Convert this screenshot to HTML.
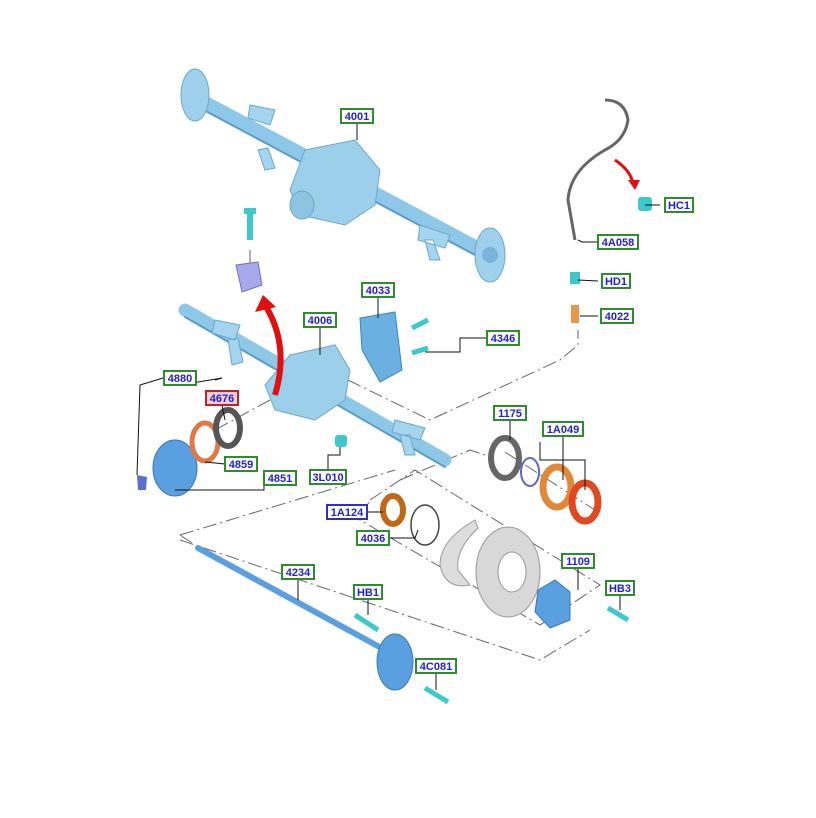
<!DOCTYPE html>
<html><head><meta charset="utf-8"><style>
html,body{margin:0;padding:0;background:#fff;}
svg{display:block}
.l rect{fill:#fff;stroke:#2e8b2e;stroke-width:2}
.l text{font-family:"Liberation Sans",sans-serif;font-weight:bold;font-size:11px;fill:#2222cc;text-anchor:middle}
.c{stroke:#111;stroke-width:1;fill:none}
.d{stroke:#666;stroke-width:1;fill:none;stroke-dasharray:14,4,2,4}
.ax{stroke:#8ec8e8;stroke-linecap:round;fill:none}
.axd{stroke:#5a9cc4;stroke-linecap:round;fill:none}
</style></head><body>
<svg width="816" height="818" viewBox="0 0 816 818">
<!-- dash-dot lines -->
<path class="d" d="M270 400 L215 430 M348 380 L430 420 L560 360 L578 345 L578 330"/>
<path class="d" d="M400 480 L470 450 L485 455 M505 452 L595 510"/>
<path class="d" d="M370 500 L415 470 L600 585 L540 625 L360 520 Z"/>
<path class="d" d="M180 535 L395 470 M180 535 L195 545 M180 540 L540 660 L590 630"/>
<path class="d" d="M250 250 L250 270"/>
<!-- upper axle 4001 -->
<path class="ax" stroke-width="14" d="M200 100 L490 255"/>
<path class="axd" stroke-width="2" d="M200 108 L490 263"/>
<ellipse cx="195" cy="95" rx="14" ry="26" fill="#9fd0ec" stroke="#6aa8cc"/>
<ellipse cx="490" cy="255" rx="15" ry="27" fill="#9fd0ec" stroke="#6aa8cc"/>
<circle cx="490" cy="255" r="8" fill="#7ab4d8"/>
<path d="M305 150 L355 140 L380 170 L375 205 L345 225 L300 215 L290 190 Z" fill="#9ccfea" stroke="#6aa8cc"/>
<ellipse cx="302" cy="205" rx="12" ry="14" fill="#8cc4e2" stroke="#6aa8cc"/>
<path d="M250 105 L275 110 L270 125 L248 118Z M420 225 L450 235 L445 248 L418 240Z M258 150 L265 170 L275 168 L268 148Z M425 240 L430 260 L440 260 L433 240Z" fill="#a4d4ee" stroke="#6aa8cc"/>
<!-- bushing -->
<rect x="247" y="210" width="6" height="30" fill="#3cc8cc"/>
<rect x="244" y="208" width="12" height="6" fill="#3cc8cc"/>
<path d="M236 265 L258 262 L262 285 L242 292 Z" fill="#a8a8ee" stroke="#7070c0"/>
<!-- lower axle 4006 -->
<path class="ax" stroke-width="13" d="M185 310 L445 460"/>
<path class="axd" stroke-width="2" d="M185 317 L445 467"/>
<path d="M290 355 L335 345 L350 370 L345 400 L315 420 L275 410 L265 385 Z" fill="#9ccfea" stroke="#6aa8cc"/>
<path d="M215 320 L240 325 L235 340 L212 333Z M395 420 L425 428 L420 440 L392 432Z M228 340 L232 365 L243 362 L238 338Z M400 435 L405 455 L415 455 L410 435Z" fill="#a4d4ee" stroke="#6aa8cc"/>
<!-- red arrow -->
<path d="M275 395 Q290 345 265 305" stroke="#e01010" stroke-width="6" fill="none"/>
<path d="M255 312 L263 295 L276 307 Z" fill="#e01010"/>
<!-- cover 4033 -->
<path d="M360 318 L395 312 L402 370 L380 382 L362 350 Z" fill="#6ab0e0" stroke="#3a88c0"/>
<path d="M412 328 L428 320 M412 353 L428 348" stroke="#3cc8cc" stroke-width="5"/>
<!-- vent tube -->
<path d="M605 100 Q625 100 628 120 Q625 140 605 150 Q570 170 568 200 L575 240" stroke="#666" stroke-width="3" fill="none"/>
<path d="M615 160 Q630 170 633 183" stroke="#e01010" stroke-width="3" fill="none"/>
<path d="M628 180 L640 180 L635 190Z" fill="#e01010"/>
<rect x="638" y="197" width="14" height="14" fill="#3cc8cc" rx="3"/>
<rect x="570" y="272" width="10" height="12" fill="#3cc8cc"/>
<rect x="571" y="305" width="8" height="18" fill="#e89848"/>
<!-- left hub parts -->
<ellipse cx="175" cy="468" rx="22" ry="28" fill="#5aa0e0" stroke="#3a78b8"/>
<path d="M137 475 L147 477 L146 490 L138 490Z" fill="#5a70d0"/>
<ellipse cx="205" cy="442" rx="13" ry="19" fill="none" stroke="#e07848" stroke-width="5"/>
<ellipse cx="228" cy="428" rx="12" ry="18" fill="none" stroke="#555" stroke-width="6"/>
<rect x="335" y="435" width="12" height="12" fill="#3cc8cc" rx="3"/>
<!-- seals -->
<ellipse cx="505" cy="458" rx="14" ry="20" fill="none" stroke="#666" stroke-width="6"/>
<ellipse cx="530" cy="472" rx="9" ry="14" fill="none" stroke="#6464c8" stroke-width="2"/>
<ellipse cx="557" cy="487" rx="14" ry="20" fill="none" stroke="#e08838" stroke-width="7"/>
<ellipse cx="585" cy="502" rx="13" ry="19" fill="none" stroke="#e04820" stroke-width="7"/>
<ellipse cx="393" cy="510" rx="10" ry="14" fill="none" stroke="#c06818" stroke-width="6"/>
<ellipse cx="425" cy="525" rx="14" ry="20" fill="none" stroke="#444" stroke-width="1.5"/>
<path d="M475 520 Q440 540 440 565 Q445 590 470 585 L458 570 Q455 550 478 528Z" fill="#ddd" stroke="#999"/>
<ellipse cx="508" cy="572" rx="32" ry="45" fill="#d8d8d8" stroke="#999"/>
<ellipse cx="512" cy="572" rx="14" ry="20" fill="#fff" stroke="#999"/>
<path d="M538 590 L555 580 L570 592 L570 620 L550 628 L535 612Z" fill="#5aa0e0" stroke="#3a78b8"/>
<path d="M608 608 L628 620" stroke="#3cc8cc" stroke-width="5"/>
<!-- shaft -->
<path d="M198 548 L385 650" stroke="#5aa0e0" stroke-width="6" stroke-linecap="round"/>
<ellipse cx="395" cy="662" rx="18" ry="28" fill="#5aa0e0" stroke="#3a78b8"/>
<path d="M355 615 L378 630" stroke="#3cc8cc" stroke-width="5"/>
<path d="M425 688 L448 702" stroke="#3cc8cc" stroke-width="5"/>
<!-- connectors -->
<path class="c" d="M357 123 L357 140 M320 327 L320 355 M378 297 L378 318 M487 338 L460 338 L460 352 L425 352 M163 378 L140 385 L137 475 M180 385 L222 378 L215 380 M222 405 L225 420 M225 464 L205 462 M264 478 L264 490 L175 490 M328 470 L328 455 L340 455 L340 447 M660 205 L645 205 M598 242 L582 242 L578 240 M598 281 L578 280 M598 316 L580 316 M510 420 L510 440 M563 436 L563 480 M540 442 L540 460 L585 460 L585 490 M331 512 L383 512 M389 538 L415 538 L418 530 M298 579 L298 600 M368 599 L368 615 M578 568 L578 590 M620 595 L620 610 M436 673 L436 690"/>
<!-- labels -->
<g class="l">
<rect x="341" y="109" width="32" height="14"/><text x="357" y="120">4001</text>
<rect x="304" y="313" width="32" height="14"/><text x="320" y="324">4006</text>
<rect x="362" y="283" width="32" height="14"/><text x="378" y="294">4033</text>
<rect x="487" y="331" width="32" height="14"/><text x="503" y="342">4346</text>
<rect x="164" y="371" width="32" height="14"/><text x="180" y="382">4880</text>
<rect x="206" y="391" width="32" height="14" style="stroke:#c02030;fill:#f4d0d4"/><text x="222" y="402">4676</text>
<rect x="225" y="457" width="32" height="14"/><text x="241" y="468">4859</text>
<rect x="264" y="471" width="32" height="14"/><text x="280" y="482">4851</text>
<rect x="310" y="470" width="36" height="14"/><text x="328" y="481">3L010</text>
<rect x="665" y="198" width="28" height="14"/><text x="679" y="209">HC1</text>
<rect x="598" y="235" width="40" height="14"/><text x="618" y="246">4A058</text>
<rect x="602" y="274" width="28" height="14"/><text x="616" y="285">HD1</text>
<rect x="601" y="309" width="32" height="14"/><text x="617" y="320">4022</text>
<rect x="494" y="406" width="32" height="14"/><text x="510" y="417">1175</text>
<rect x="543" y="422" width="40" height="14"/><text x="563" y="433">1A049</text>
<rect x="327" y="505" width="40" height="14" style="stroke:#3030c0"/><text x="347" y="516">1A124</text>
<rect x="357" y="531" width="32" height="14"/><text x="373" y="542">4036</text>
<rect x="282" y="565" width="32" height="14"/><text x="298" y="576">4234</text>
<rect x="354" y="585" width="28" height="14"/><text x="368" y="596">HB1</text>
<rect x="562" y="554" width="32" height="14"/><text x="578" y="565">1109</text>
<rect x="606" y="581" width="28" height="14"/><text x="620" y="592">HB3</text>
<rect x="416" y="659" width="40" height="14"/><text x="436" y="670">4C081</text>
</g>
</svg>
</body></html>
